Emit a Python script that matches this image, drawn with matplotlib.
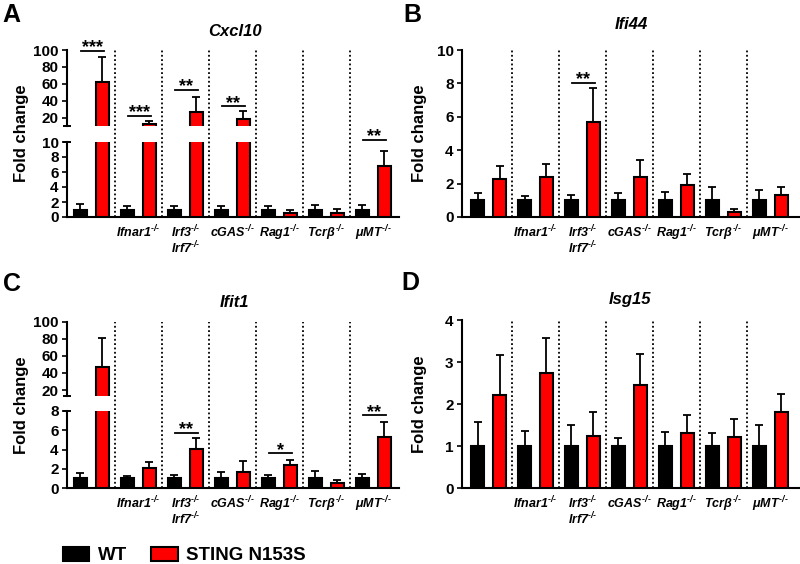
import matplotlib
matplotlib.use('Agg')
import matplotlib.pyplot as plt
import numpy as np

plt.rcParams['font.family'] = ['Liberation Sans', 'DejaVu Sans']
plt.rcParams['font.weight'] = 'bold'
plt.rcParams['mathtext.fontset'] = 'custom'
plt.rcParams['mathtext.it'] = 'Liberation Sans:italic:bold'
plt.rcParams['mathtext.rm'] = 'Liberation Sans:italic:bold'
plt.rcParams['mathtext.bf'] = 'Liberation Sans:italic:bold'

# ---------------- data ----------------
KO = r'^{\text{-/-}}'
groups = ['', r'$Ifnar1' + KO + '$', r'$Irf3' + KO + '$' + '\n' + r'$Irf7' + KO + '$',
          r'$cGAS' + KO + '$', r'$Rag1' + KO + '$', r'$Tcr\beta' + KO + '$', r'$\mu MT' + KO + '$']

wt_mean = [1, 1, 1, 1, 1, 1, 1]

cxcl10_wt_err = [1.7, 1.47, 1.45, 1.5, 1.47, 1.6, 1.6]
cxcl10_sting = [62, 13, 27, 19, 0.5, 0.5, 6.8]
cxcl10_sting_err = [92, 16.5, 45, 28, 0.93, 1.07, 8.8]
cxcl10_sig = [(0, 99, '***'), (1, 22.4, '***'), (2, 53, '**'), (3, 34, '**'), (6, 10.3, '**')]

ifi44_wt_err = [1.42, 1.26, 1.3, 1.46, 1.5, 1.78, 1.62]
ifi44_sting = [2.26, 2.42, 5.7, 2.37, 1.92, 0.3, 1.3]
ifi44_sting_err = [3.05, 3.15, 7.7, 3.4, 2.6, 0.5, 1.82]
ifi44_sig = [(2, 8.05, '**')]

ifit1_wt_err = [1.52, 1.28, 1.35, 1.7, 1.35, 1.77, 1.42]
ifit1_sting = [47.3, 2.04, 4.02, 1.7, 2.39, 0.48, 5.33]
ifit1_sting_err = [81.3, 2.73, 5.22, 2.8, 2.9, 0.83, 6.9]
ifit1_sig = [(2, 5.74, '**'), (4, 3.6, '*'), (6, 7.58, '**')]

isg15_wt_err = [1.56, 1.36, 1.5, 1.2, 1.34, 1.3, 1.5]
isg15_sting = [2.21, 2.75, 1.25, 2.45, 1.3, 1.21, 1.82]
isg15_sting_err = [3.17, 3.58, 1.8, 3.2, 1.74, 1.64, 2.23]
isg15_sig = []

# ---------------- layout ----------------
W, H = 800, 564
fig = plt.figure(figsize=(W / 100, H / 100), dpi=100)


def fy(px):
    return 1 - px / H


def make_ax(left, right, top, bottom):
    return fig.add_axes([left / W, fy(bottom), (right - left) / W, (bottom - top) / H])


BW = 0.28
OFF = 0.234
LW = 1.3
x = np.arange(len(groups))


def style_axis(ax, xlim, show_x):
    ax.set_xlim(*xlim)
    for s in ['top', 'right']:
        ax.spines[s].set_visible(False)
    ax.spines['left'].set_linewidth(1.5)
    ax.spines['bottom'].set_linewidth(1.5)
    ax.tick_params(axis='y', direction='out', length=3.6, width=1.2, pad=2.5, labelsize=11)
    if show_x:
        ax.set_xticks(x)
        ax.set_xticklabels(groups, fontsize=9, linespacing=1.0)
        ax.tick_params(axis='x', length=0, pad=4.5)
    else:
        ax.spines['bottom'].set_visible(False)
        ax.set_xticks([])


def draw_bars(ax, wt_err, st, st_err, ymin=None):
    wt = np.array(wt_mean, float)
    st = np.array(st, float)
    wt_err = np.array(wt_err, float)
    st_err = np.array(st_err, float)
    b1 = ax.bar(x - OFF, wt, BW, color='black', edgecolor='black', linewidth=1.5, zorder=3)
    b2 = ax.bar(x + OFF, st, BW, color='#ff0000', edgecolor='black', linewidth=1.5, zorder=3)
    for xs, m, e in [(x - OFF, wt, wt_err), (x + OFF, st, st_err)]:
        keep = np.ones(len(m), bool) if ymin is None else e > ymin
        if keep.any():
            ax.errorbar(xs[keep], m[keep], yerr=[np.zeros(keep.sum()), (e - m)[keep]], fmt='none',
                        ecolor='black', elinewidth=LW, capsize=3, capthick=LW, zorder=2)
    return b1, b2


def draw_sig(ax, g, y, label):
    ax.plot([g - 0.23, g + 0.27], [y, y], color='black', lw=LW, clip_on=False, zorder=4)
    ax.annotate(label, xy=(g + 0.02, y), xytext=(0, -1.2), textcoords='offset points',
                ha='center', va='baseline', fontsize=13, fontweight='bold',
                annotation_clip=False)


def separators(ax, ymax_frac):
    for s in np.arange(0.5, len(groups) - 1, 1.0):
        ax.axvline(s, ymin=0, ymax=ymax_frac, color='black', lw=1.3,
                   linestyle=(0, (1, 1.4)), clip_on=False, zorder=1)


def cap(ax, yfrac):
    ax.plot([0], [yfrac], transform=ax.transAxes, marker='_', ms=6, mew=1.4,
            color='black', clip_on=False)


def broken_panel(xl, xr, top_px, up_bot_px, lo_top_px, bot_px, up_lim, lo_lim,
                 up_ticks, lo_ticks, wt_err, st, st_err, sig, xlim):
    ax_up = make_ax(xl, xr, top_px, up_bot_px)
    ax_lo = make_ax(xl, xr, lo_top_px, bot_px)
    draw_bars(ax_up, wt_err, st, st_err, ymin=up_lim[0])
    bars = draw_bars(ax_lo, wt_err, st, st_err)
    ax_up.set_ylim(*up_lim)
    ax_lo.set_ylim(*lo_lim)
    ax_up.set_yticks(up_ticks)
    ax_lo.set_yticks(lo_ticks)
    style_axis(ax_up, xlim, False)
    style_axis(ax_lo, xlim, True)
    cap(ax_up, 0)
    cap(ax_lo, 1)
    separators(ax_lo, (bot_px - top_px) / (bot_px - lo_top_px))
    for g, y, lab in sig:
        draw_sig(ax_up if y >= up_lim[0] else ax_lo, g, y, lab)
    return bars


def simple_panel(xl, xr, top_px, bot_px, ylim, ticks, wt_err, st, st_err, sig, xlim):
    ax = make_ax(xl, xr, top_px, bot_px)
    bars = draw_bars(ax, wt_err, st, st_err)
    ax.set_ylim(*ylim)
    ax.set_yticks(ticks)
    style_axis(ax, xlim, True)
    separators(ax, 1.0)
    for g, y, lab in sig:
        draw_sig(ax, g, y, lab)
    return bars


xlimA = (-0.52, 6.545)
xlimB = (-0.564, 6.607)

bars = broken_panel(67, 399, 50, 126, 142, 217, (10.5, 100), (0, 10),
                    [20, 40, 60, 80, 100], [0, 2, 4, 6, 8, 10],
                    cxcl10_wt_err, cxcl10_sting, cxcl10_sting_err, cxcl10_sig, xlimA)
simple_panel(462, 799, 50, 217, (0, 10), [0, 2, 4, 6, 8, 10],
             ifi44_wt_err, ifi44_sting, ifi44_sting_err, ifi44_sig, xlimB)
broken_panel(67, 399, 321.7, 396, 411, 488, (13, 100), (0, 8),
             [20, 40, 60, 80, 100], [0, 2, 4, 6, 8],
             ifit1_wt_err, ifit1_sting, ifit1_sting_err, ifit1_sig, xlimA)
simple_panel(462, 799, 320, 488, (0, 4), [0, 1, 2, 3, 4],
             isg15_wt_err, isg15_sting, isg15_sting_err, isg15_sig, xlimB)

# titles, panel letters, y labels
for txt, xc, yb in [('Cxcl10', 235, 36), ('Ifi44', 631, 29), ('Ifit1', 234, 307), ('Isg15', 630, 304)]:
    fig.text(xc / W, fy(yb), txt, ha='center', va='baseline', fontsize=12,
             fontweight='bold', fontstyle='italic')
for txt, xl, yb in [('A', 2, 22), ('B', 403, 22), ('C', 3, 291), ('D', 401, 290)]:
    fig.text(xl / W, fy(yb), txt, ha='left', va='baseline', fontsize=18, fontweight='bold')
for xc, yc in [(22, 133.5), (419, 133.5), (22, 405), (419, 404)]:
    fig.text(xc / W, fy(yc), 'Fold change', rotation=90, ha='center', va='center',
             fontsize=12, fontweight='bold')

fig.legend(handles=[bars[0], bars[1]], labels=['WT', 'STING N153S'], loc='lower left',
           bbox_to_anchor=(63 / W, fy(564.5)), ncol=2, frameon=False, fontsize=13.5,
           handlelength=1.4, handleheight=0.7, handletextpad=0.45, columnspacing=1.3,
           borderpad=0, borderaxespad=0)

fig.savefig('out.png', dpi=100)
